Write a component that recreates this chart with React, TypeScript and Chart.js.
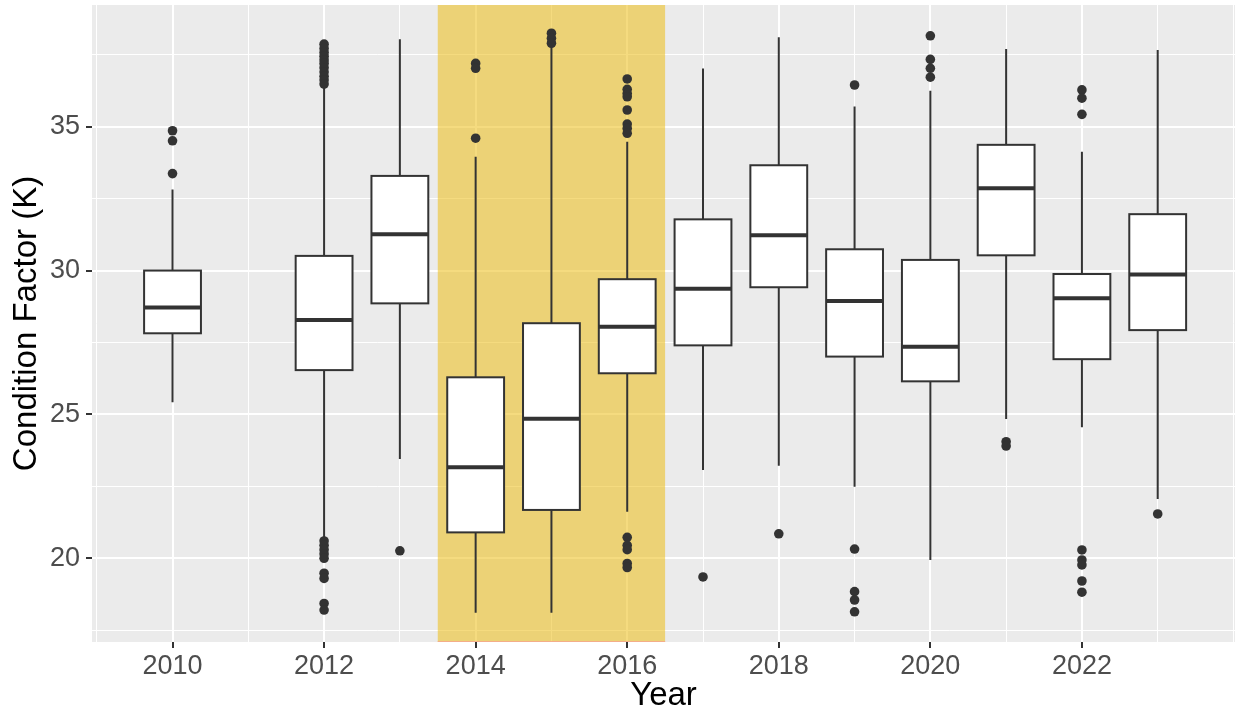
import { useEffect, useRef } from "react";
import { Chart, registerables } from "chart.js";

Chart.register(...registerables);

// Yearly condition factor (K) summaries: whiskers, quartiles, median, outliers
const years = [2010, 2012, 2013, 2014, 2015, 2016, 2017, 2018, 2019, 2020, 2021, 2022, 2023];
const lowerWhisker = [25.42, 20.69, 23.45, 18.11, 18.11, 21.62, 23.07, 23.22, 22.49, 19.94, 24.84, 24.55, 22.06];
const q1 = [27.82, 26.54, 28.86, 20.9, 21.68, 26.43, 27.4, 29.42, 27.01, 26.15, 30.53, 26.92, 27.93];
const median = [28.72, 28.28, 31.26, 23.16, 24.85, 28.05, 29.37, 31.23, 28.94, 27.35, 32.86, 29.04, 29.86];
const q3 = [30.0, 30.51, 33.29, 26.29, 28.17, 29.7, 31.78, 33.66, 30.74, 30.37, 34.37, 29.88, 31.96];
const upperWhisker = [32.82, 36.4, 38.04, 33.96, 37.78, 34.48, 37.02, 38.11, 35.7, 36.25, 37.7, 34.13, 37.67];
const outliers: number[][] = [
  [34.86, 34.51, 33.37],
  [37.87, 37.72, 37.58, 37.45, 37.32, 37.2, 37.05, 36.9, 36.75, 36.62, 36.48,
   20.6, 20.45, 20.3, 20.15, 20.0, 19.48, 19.3, 18.43, 18.2],
  [20.26],
  [37.2, 37.03, 34.6],
  [38.25, 38.07, 37.9],
  [36.66, 36.3, 36.15, 36.04, 35.58, 35.09, 34.94, 34.77, 20.73, 20.45, 20.3, 19.82, 19.68],
  [19.35],
  [20.85],
  [36.45, 20.32, 18.84, 18.55, 18.14],
  [38.16, 37.34, 37.03, 36.72],
  [24.05, 23.9],
  [36.28, 35.99, 35.43, 20.29, 19.94, 19.77, 19.21, 18.82],
  [21.54],
];

// Highlighted period (2014–2016)
const highlightRange = [2013.5, 2016.5];

// Axis breaks
const yearBreaks = [2010, 2012, 2014, 2016, 2018, 2020, 2022];
const yearMinorBreaks = [2009, 2011, 2013, 2015, 2017, 2019, 2021, 2023, 2024];
const kBreaks = [20, 25, 30, 35];
const kMinorBreaks = [17.5, 22.5, 27.5, 32.5, 37.5];

const BOX_WIDTH = 0.75;
const INK = "#333333";
const FONT = "'Liberation Sans', Arial, Helvetica, sans-serif";

const boxPlotPlugin = {
  id: "boxPlotLayer",
  beforeDraw(chart: any) {
    const { ctx, chartArea } = chart;
    ctx.save();
    ctx.fillStyle = "#EBEBEB";
    ctx.fillRect(chartArea.left, chartArea.top, chartArea.right - chartArea.left, chartArea.bottom - chartArea.top);
    ctx.restore();
  },
  beforeDatasetsDraw(chart: any) {
    const { ctx, chartArea, scales } = chart;
    const xs = scales.x;
    const ys = scales.y;
    ctx.save();
    // shaded period
    const hx0 = xs.getPixelForValue(highlightRange[0]);
    const hx1 = xs.getPixelForValue(highlightRange[1]);
    ctx.fillStyle = "rgba(236, 190, 22, 0.55)";
    ctx.fillRect(hx0, chartArea.top, hx1 - hx0, chartArea.bottom - chartArea.top);
    ctx.strokeStyle = "rgba(245, 170, 140, 0.9)";
    ctx.lineWidth = 1;
    ctx.beginPath();
    ctx.moveTo(hx0, chartArea.bottom - 0.5);
    ctx.lineTo(hx1, chartArea.bottom - 0.5);
    ctx.stroke();

    // boxes and whiskers
    years.forEach((yr, i) => {
      const cx = xs.getPixelForValue(yr);
      const left = xs.getPixelForValue(yr - BOX_WIDTH / 2);
      const right = xs.getPixelForValue(yr + BOX_WIDTH / 2);
      const pLow = ys.getPixelForValue(lowerWhisker[i]);
      const pQ1 = ys.getPixelForValue(q1[i]);
      const pMed = ys.getPixelForValue(median[i]);
      const pQ3 = ys.getPixelForValue(q3[i]);
      const pHigh = ys.getPixelForValue(upperWhisker[i]);

      ctx.strokeStyle = INK;
      ctx.lineWidth = 2;
      ctx.beginPath();
      ctx.moveTo(cx, pHigh);
      ctx.lineTo(cx, pQ3);
      ctx.moveTo(cx, pQ1);
      ctx.lineTo(cx, pLow);
      ctx.stroke();

      ctx.fillStyle = "#FFFFFF";
      ctx.fillRect(left, pQ3, right - left, pQ1 - pQ3);
      ctx.strokeRect(left, pQ3, right - left, pQ1 - pQ3);

      ctx.lineWidth = 4;
      ctx.beginPath();
      ctx.moveTo(left, pMed);
      ctx.lineTo(right, pMed);
      ctx.stroke();
    });
    ctx.restore();
  },
};

const isMajorYear = (v: number) => yearBreaks.includes(v);
const isMajorK = (v: number) => kBreaks.includes(v);

export default function App() {
  const canvasRef = useRef<HTMLCanvasElement | null>(null);

  useEffect(() => {
    if (!canvasRef.current) return;
    const points: { x: number; y: number }[] = [];
    years.forEach((yr, i) => outliers[i].forEach((v) => points.push({ x: yr, y: v })));

    const chart = new Chart(canvasRef.current, {
      type: "scatter",
      data: {
        datasets: [
          {
            label: "Outliers",
            data: points,
            pointRadius: 4.8,
            pointBackgroundColor: INK,
            pointBorderWidth: 0,
            pointBorderColor: INK,
          },
        ],
      },
      options: {
        responsive: false,
        animation: false,
        events: [],
        layout: { autoPadding: false, padding: { top: 5, right: 0, left: 0, bottom: 0 } },
        plugins: {
          legend: { display: false },
          tooltip: { enabled: false },
        },
        scales: {
          x: {
            type: "linear",
            min: 2008.9375,
            max: 2024.02,
            afterBuildTicks: (scale: any) => {
              scale.ticks = [...yearBreaks, ...yearMinorBreaks].sort((a, b) => a - b).map((v) => ({ value: v }));
            },
            afterFit: (scale: any) => {
              scale.height = 73;
              scale.paddingLeft = 0;
              scale.paddingRight = 0;
            },
            border: { display: false },
            grid: {
              color: "#FFFFFF",
              lineWidth: (c: any) => (isMajorYear(c.tick?.value) ? 2 : 1),
              drawTicks: true,
              tickLength: 6,
              tickWidth: 2,
              tickColor: (c: any) => (isMajorYear(c.tick?.value) ? INK : "rgba(0,0,0,0)"),
            },
            ticks: {
              autoSkip: false,
              maxRotation: 0,
              padding: 2,
              color: "#4D4D4D",
              font: { family: FONT, size: 27 },
              callback: (v: any) => (isMajorYear(Number(v)) ? String(v) : ""),
            },
            title: {
              display: true,
              text: "Year",
              color: "#000000",
              font: { family: FONT, size: 33 },
              padding: { top: 0, bottom: -1 },
            },
          },
          y: {
            type: "linear",
            min: 17.09,
            max: 39.23,
            afterBuildTicks: (scale: any) => {
              scale.ticks = [...kBreaks, ...kMinorBreaks].sort((a, b) => a - b).map((v) => ({ value: v }));
            },
            afterFit: (scale: any) => {
              scale.width = 92;
              scale.paddingTop = 0;
              scale.paddingBottom = 0;
            },
            border: { display: false },
            grid: {
              color: "#FFFFFF",
              lineWidth: (c: any) => (isMajorK(c.tick?.value) ? 2 : 1),
              drawTicks: true,
              tickLength: 6,
              tickWidth: 2,
              tickColor: (c: any) => (isMajorK(c.tick?.value) ? INK : "rgba(0,0,0,0)"),
            },
            ticks: {
              autoSkip: false,
              padding: 6,
              color: "#4D4D4D",
              font: { family: FONT, size: 27 },
              callback: (v: any) => (isMajorK(Number(v)) ? String(v) : ""),
            },
            title: {
              display: true,
              text: "Condition Factor (K)",
              color: "#000000",
              font: { family: FONT, size: 33 },
              padding: { top: 7, bottom: 0 },
            },
          },
        },
      },
      plugins: [boxPlotPlugin],
    } as any);

    return () => chart.destroy();
  }, []);

  return (
    <div style={{ position: "fixed", left: 0, top: 0, width: 1235, height: 715, background: "#FFFFFF" }}>
      <canvas ref={canvasRef} width={1235} height={715} style={{ display: "block" }} />
    </div>
  );
}
